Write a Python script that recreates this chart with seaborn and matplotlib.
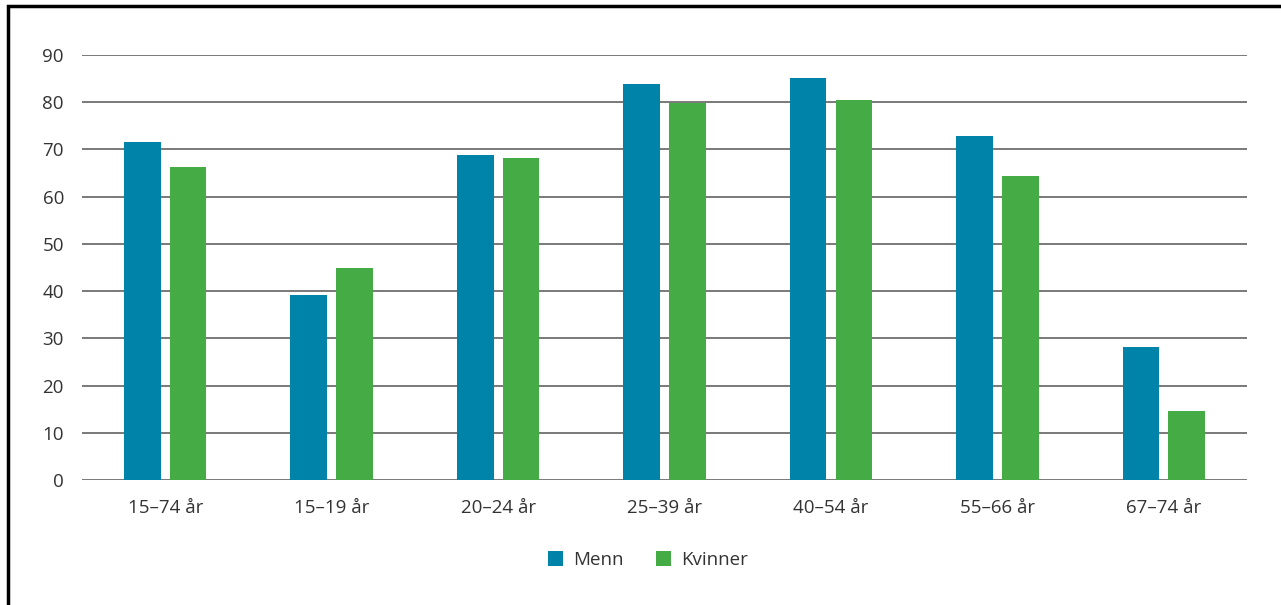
import pandas as pd
import matplotlib
matplotlib.use('Agg')
import matplotlib.pyplot as plt
import seaborn as sns
from matplotlib.patches import Rectangle

# Data
age_groups = ['15–74 år', '15–19 år', '20–24 år', '25–39 år', '40–54 år', '55–66 år', '67–74 år']
menn = [71.5, 39.2, 68.8, 83.9, 85.1, 72.8, 28.2]
kvinner = [66.2, 44.8, 68.1, 79.8, 80.5, 64.3, 14.6]
yticks = [0, 10, 20, 30, 40, 50, 60, 70, 80, 90]

df = pd.DataFrame({
    'Alder': age_groups * 2,
    'Verdi': menn + kvinner,
    'Kjønn': ['Menn'] * len(menn) + ['Kvinner'] * len(kvinner),
})

sns.set_style('white')
plt.rcParams['font.family'] = ['Open Sans', 'DejaVu Sans']
text_col = '#333333'

fig = plt.figure(figsize=(12.81, 6.05), dpi=100)
ax = fig.add_axes([0.064, 0.2066, 0.9095, 0.7025])

sns.barplot(data=df, x='Alder', y='Verdi', hue='Kjønn',
            palette={'Menn': '#0083A9', 'Kvinner': '#45AB45'},
            width=0.55, gap=0.2, saturation=1, linewidth=0, ax=ax, zorder=3)

ax.set_ylim(0, 90)
ax.set_yticks(yticks)
ax.grid(axis='y', color='#555555', linewidth=1.1, zorder=0)
ax.set_axisbelow(True)
for s in ax.spines.values():
    s.set_visible(False)
ax.tick_params(axis='both', length=0, labelsize=13.5, colors=text_col)
ax.tick_params(axis='y', pad=13)
ax.tick_params(axis='x', pad=14)
ax.set_xlabel('')
ax.set_ylabel('')

ax.legend(loc='center', bbox_to_anchor=(0.486, -0.188), ncol=2, frameon=False,
          fontsize=13.5, handlelength=0.8, handleheight=0.8, columnspacing=1.7,
          handletextpad=0.55, labelcolor=text_col)

# frame around the figure (left and top edges visible)
fig.patches.append(Rectangle((0.0063, -0.1), 1.2, 1.09, transform=fig.transFigure,
                             fill=False, edgecolor='black', linewidth=2.5))

plt.savefig('out.png', dpi=100)
plt.close()
